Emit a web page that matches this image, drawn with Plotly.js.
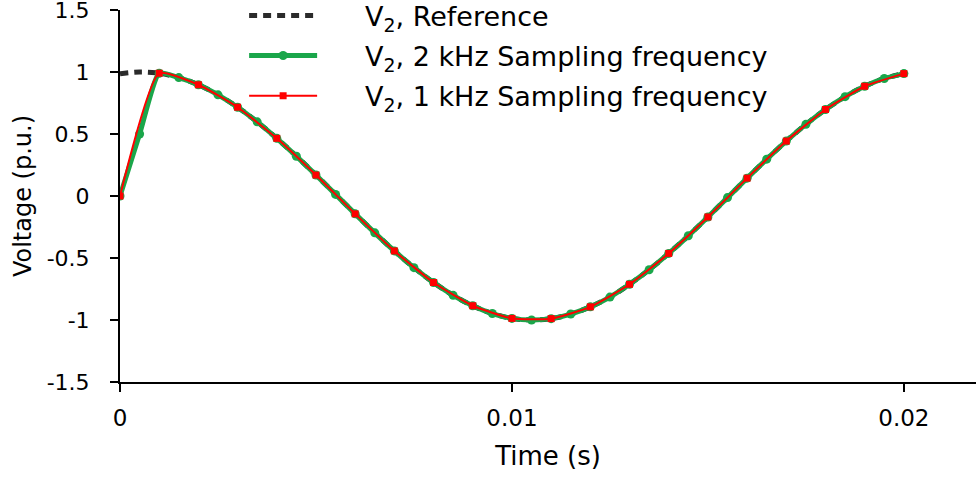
<!DOCTYPE html>
<html>
<head>
<meta charset="utf-8">
<script src="https://cdn.plot.ly/plotly-3.0.1.min.js"></script>
<style>html,body{margin:0;padding:0;background:#fff;}#chart{width:976px;height:481px;}</style>
</head>
<body>
<div id="chart"></div>
<script>
// Time (s)
const tRef = [0, 0.0005, 0.001, 0.0015, 0.002, 0.0025, 0.003, 0.0035, 0.004, 0.0045, 0.005, 0.0055, 0.006, 0.0065, 0.007, 0.0075, 0.008, 0.0085, 0.009, 0.0095, 0.01, 0.0105, 0.011, 0.0115, 0.012, 0.0125, 0.013, 0.0135, 0.014, 0.0145, 0.015, 0.0155, 0.016, 0.0165, 0.017, 0.0175, 0.018, 0.0185, 0.019, 0.0195, 0.02];
const vRef = [0.986, 1.0, 0.99, 0.955, 0.897, 0.816, 0.716, 0.598, 0.465, 0.321, 0.169, 0.013, -0.144, -0.297, -0.443, -0.578, -0.698, -0.801, -0.885, -0.948, -0.987, -1.0, -0.989, -0.952, -0.894, -0.815, -0.712, -0.595, -0.463, -0.321, -0.169, -0.013, 0.144, 0.297, 0.443, 0.578, 0.698, 0.801, 0.885, 0.948, 0.987];

const t2k = [0, 0.0005, 0.001, 0.0015, 0.002, 0.0025, 0.003, 0.0035, 0.004, 0.0045, 0.005, 0.0055, 0.006, 0.0065, 0.007, 0.0075, 0.008, 0.0085, 0.009, 0.0095, 0.01, 0.0105, 0.011, 0.0115, 0.012, 0.0125, 0.013, 0.0135, 0.014, 0.0145, 0.015, 0.0155, 0.016, 0.0165, 0.017, 0.0175, 0.018, 0.0185, 0.019, 0.0195, 0.02];
const v2k = [0, 0.5, 0.99, 0.955, 0.897, 0.816, 0.716, 0.598, 0.465, 0.321, 0.169, 0.013, -0.144, -0.297, -0.443, -0.578, -0.698, -0.801, -0.885, -0.948, -0.987, -1.0, -0.989, -0.952, -0.894, -0.815, -0.712, -0.595, -0.463, -0.321, -0.169, -0.013, 0.144, 0.297, 0.443, 0.578, 0.698, 0.801, 0.885, 0.948, 0.987];

const t1k = [0, 0.001, 0.002, 0.003, 0.004, 0.005, 0.006, 0.007, 0.008, 0.009, 0.01, 0.011, 0.012, 0.013, 0.014, 0.015, 0.016, 0.017, 0.018, 0.019, 0.02];
const v1k = [0, 0.99, 0.897, 0.716, 0.465, 0.169, -0.144, -0.443, -0.698, -0.885, -0.987, -0.989, -0.894, -0.712, -0.463, -0.169, 0.144, 0.443, 0.698, 0.885, 0.987];

const xTickVals = [0, 0.01, 0.02];
const xTickText = ['0', '0.01', '0.02'];
const yTickVals = [-1.5, -1, -0.5, 0, 0.5, 1, 1.5];
const yTickText = ['-1.5', '-1', '-0.5', '0', '0.5', '1', '1.5'];

const FONT = 'DejaVu Sans, sans-serif';
const GAP = '\u00a0\u00a0\u00a0\u00a0\u00a0';

const traces = [
  {x: tRef, y: vRef, type: 'scatter', mode: 'lines', name: GAP + 'V<sub>2</sub>, Reference',
   line: {color: '#2b2b2b', width: 5, dash: '8px,6px', shape: 'spline'}, legendgroup: 'a'},
  {x: t2k, y: v2k, type: 'scatter', mode: 'lines+markers', name: GAP + 'V<sub>2</sub>, 2 kHz Sampling frequency',
   line: {color: '#1aa64a', width: 5, shape: 'spline', smoothing: 0.5}, marker: {color: '#1aa64a', size: 9}, legendgroup: 'b'},
  {x: t1k, y: v1k, type: 'scatter', mode: 'lines+markers', name: GAP + 'V<sub>2</sub>, 1 kHz Sampling frequency',
   line: {color: '#ff0000', width: 2, shape: 'spline', smoothing: 0.5}, marker: {color: '#ff0000', size: 7, symbol: 'square'}, legendgroup: 'c'}
];

const layout = {
  width: 976, height: 481,
  margin: {l: 120, r: 0, t: 10, b: 99, autoexpand: false},
  paper_bgcolor: '#fff', plot_bgcolor: '#fff',
  font: {family: FONT, color: '#000'},
  showlegend: true,
  legend: {x: 0.145, y: 1.05, xanchor: 'left', yanchor: 'top', bgcolor: 'rgba(0,0,0,0)',
           font: {family: FONT, size: 27, color: '#000'}, itemwidth: 68, tracegroupgap: 2, traceorder: 'grouped'},
  xaxis: {range: [0, 0.02184], tickvals: xTickVals, ticktext: xTickText, showgrid: false, zeroline: false,
          showline: true, linecolor: '#000', linewidth: 2, ticks: 'outside', ticklen: 8, tickwidth: 2, tickcolor: '#000',
          ticklabelstandoff: 6, ticklabeloverflow: 'allow',
          tickfont: {size: 23, family: FONT}, title: {text: 'Time (s)', font: {size: 26, family: FONT}, standoff: 17}},
  yaxis: {range: [-1.5, 1.5], tickvals: yTickVals, ticktext: yTickText, showgrid: false, zeroline: false,
          showline: true, linecolor: '#000', linewidth: 2, ticks: 'outside', ticklen: 8, tickwidth: 2, tickcolor: '#000',
          ticklabelstandoff: 16, ticklabeloverflow: 'allow',
          tickfont: {size: 22, family: FONT}, title: {text: 'Voltage (p.u.)', font: {size: 24, family: FONT}, standoff: 8}}
};

Plotly.newPlot('chart', traces, layout, {displayModeBar: false, staticPlot: true});
</script>
</body>
</html>
